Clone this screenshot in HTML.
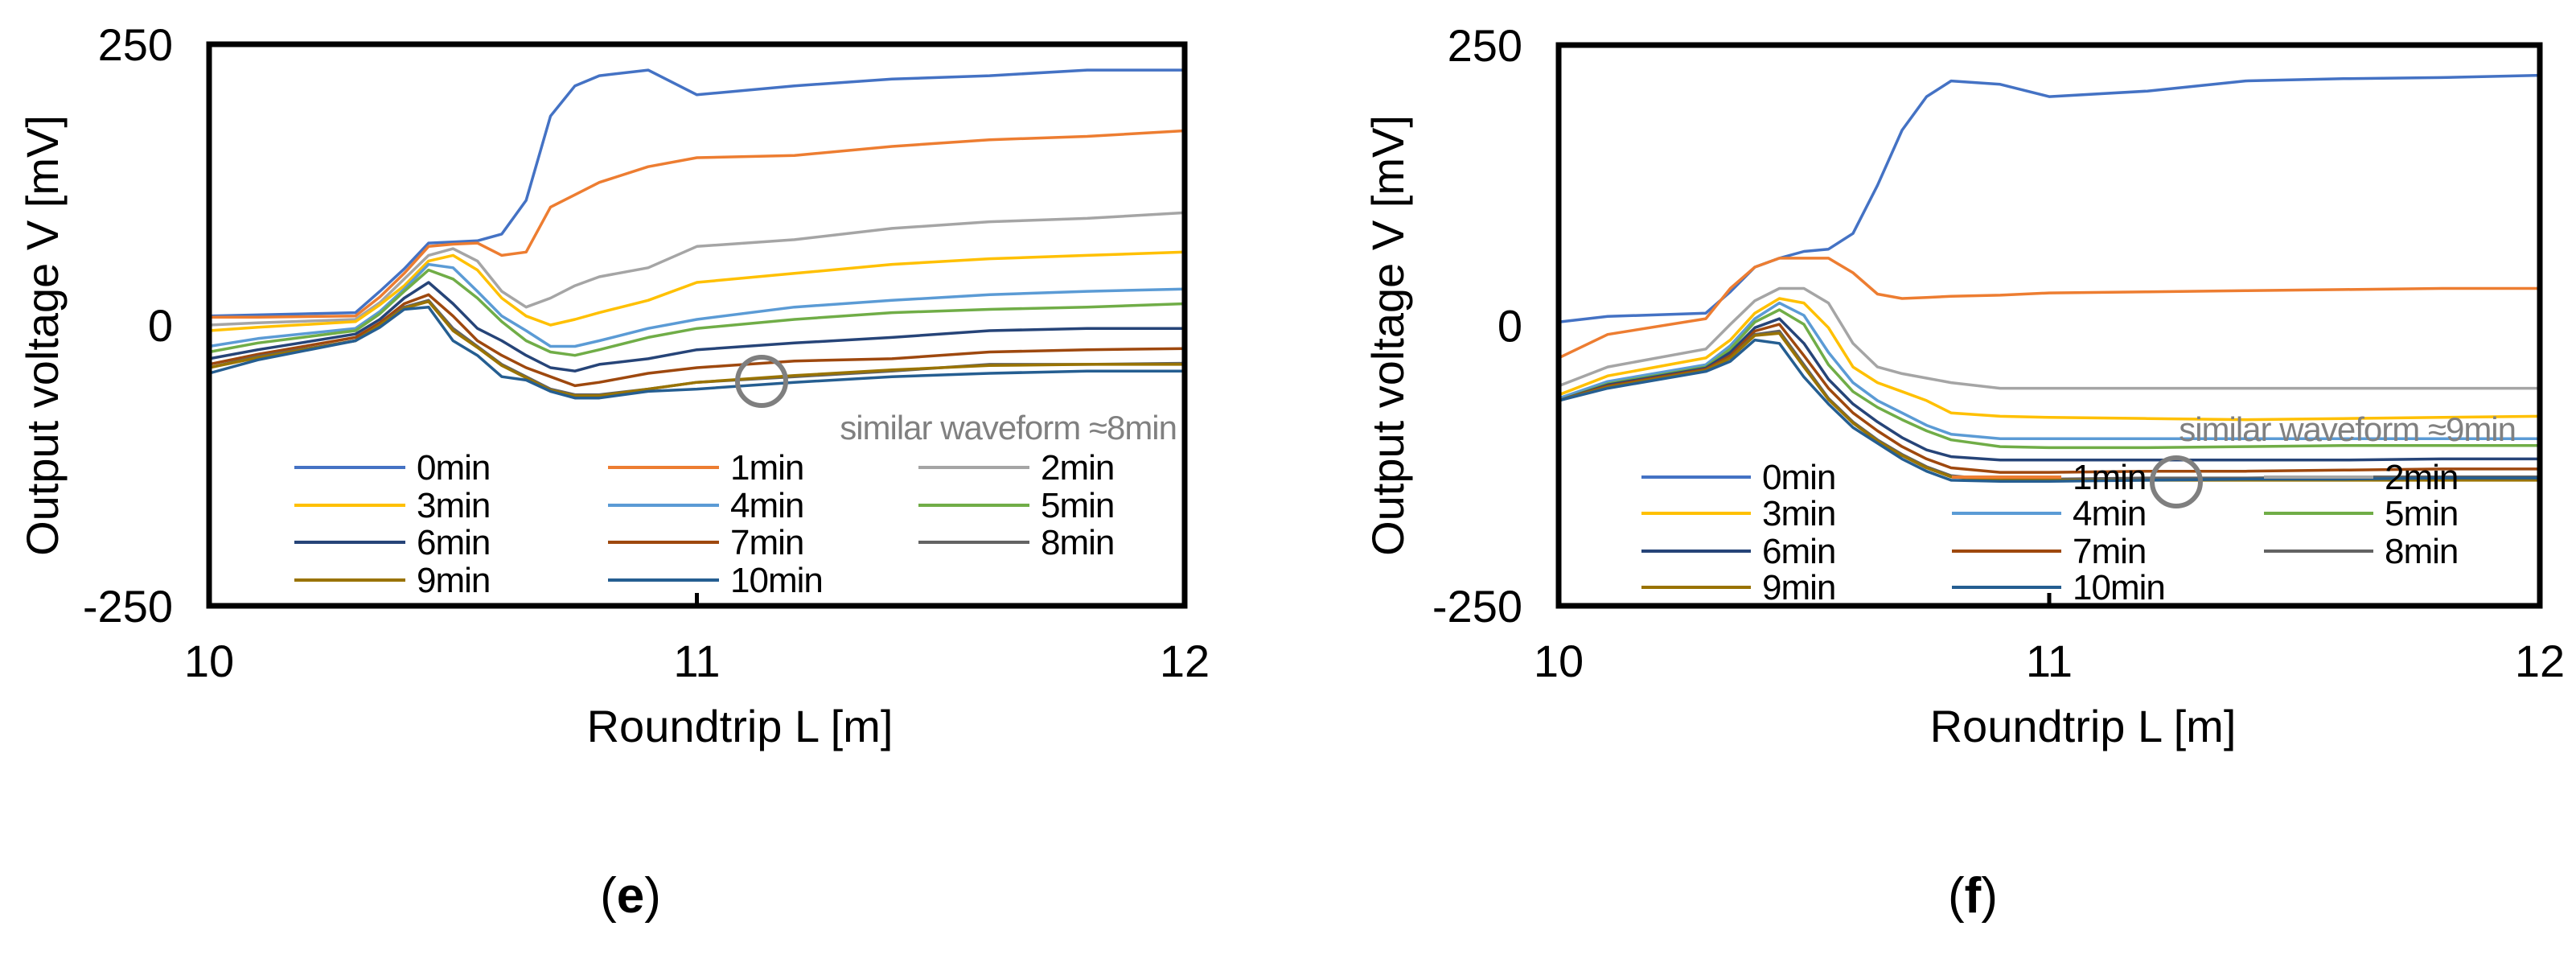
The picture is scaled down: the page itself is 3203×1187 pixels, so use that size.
<!DOCTYPE html>
<html><head><meta charset="utf-8"><style>
html,body{margin:0;padding:0;background:#fff;}
svg{display:block;}
text{font-family:"Liberation Sans",sans-serif;}
</style></head><body>
<svg id="fig" width="3203" height="1187" viewBox="0 0 3203 1187" xmlns="http://www.w3.org/2000/svg"></svg>
<script>
const xs = [10,10.1,10.3,10.35,10.4,10.45,10.5,10.55,10.6,10.65,10.7,10.75,10.8,10.9,11,11.2,11.4,11.6,11.8,12];
const seriesNames = ["0min","1min","2min","3min","4min","5min","6min","7min","8min","9min","10min"];
const colors = ["#4472C4","#ED7D31","#A5A5A5","#FFC000","#5B9BD5","#70AD47","#264478","#9E480E","#636363","#997300","#255E91"];
// chart (e)
const eVals = [
[8,9,11,30,50,73,74,75,81,111,186,213,222,227,205,213,219,222,227,227],
[7,7,8,25,46,70,72,73,62,65,105,116,127,141,149,151,159,165,168,173],
[0,2,5,20,41,62,68,57,30,16,24,35,43,51,70,76,86,92,95,100],
[-5,-2,3,18,35,57,62,49,24,8,0,5,11,22,38,46,54,59,62,65],
[-19,-12,-3,12,32,54,51,30,8,-5,-19,-19,-14,-3,5,16,22,27,30,32],
[-24,-16,-5,10,30,49,41,24,3,-14,-24,-27,-22,-11,-3,5,11,14,16,19],
[-30,-22,-8,5,24,38,19,-3,-14,-27,-38,-41,-35,-30,-22,-16,-11,-5,-3,-3],
[-35,-26,-11,2,19,27,8,-14,-27,-38,-46,-54,-51,-43,-38,-32,-30,-24,-22,-21],
[-38,-28,-14,0,16,22,-3,-19,-35,-46,-57,-62,-62,-57,-51,-46,-41,-35,-35,-34],
[-38,-29,-14,0,15,21,-5,-20,-36,-47,-58,-63,-63,-57,-51,-45,-40,-36,-35,-35],
[-43,-31,-14,-2,14,16,-14,-27,-46,-49,-59,-65,-65,-59,-57,-51,-46,-43,-41,-41]
];
// chart (f)
const fVals = [
[3,8,11,30,52,60,66,68,82,125,174,204,218,215,204,209,218,220,221,223],
[-29,-8,6,33,52,60,60,60,47,28,24,25,26,27,29,30,31,32,33,33],
[-54,-37,-21,1,22,33,33,20,-16,-37,-43,-47,-51,-56,-56,-56,-56,-56,-56,-56],
[-62,-45,-29,-13,11,24,20,-2,-37,-51,-59,-67,-78,-81,-82,-83,-84,-83,-82,-81],
[-65,-50,-35,-18,6,20,9,-24,-51,-67,-78,-89,-97,-101,-101,-101,-101,-101,-101,-101],
[-67,-52,-37,-21,3,14,1,-35,-59,-73,-84,-94,-102,-108,-109,-109,-108,-107,-107,-107],
[-67,-53,-38,-24,-2,6,-16,-48,-70,-86,-100,-111,-117,-120,-120,-120,-120,-120,-119,-119],
[-67,-54,-39,-27,-5,1,-27,-56,-78,-94,-108,-119,-127,-131,-131,-130,-130,-129,-128,-128],
[-67,-55,-40,-29,-8,-5,-35,-65,-86,-102,-115,-126,-134,-138,-137,-136,-136,-135,-135,-135],
[-67,-55,-40,-29,-9,-7,-37,-66,-87,-103,-116,-127,-135,-138,-138,-138,-138,-138,-138,-138],
[-67,-56,-41,-32,-13,-16,-46,-70,-91,-105,-119,-130,-138,-139,-139,-138,-137,-137,-136,-136]
];
const yTicks = [250,0,-250];
const xTicks = [10,11,12];

const NS="http://www.w3.org/2000/svg";
const svg=document.getElementById('fig');
function mk(tag,attrs,parent){const e=document.createElementNS(NS,tag);for(const k in attrs)e.setAttribute(k,attrs[k]);(parent||svg).appendChild(e);return e;}

function chart(cfg){
  const g=mk('g',{});
  
  
  const X=v=>cfg.x0+(v-10)/2*(cfg.x1-cfg.x0);
  const Y=v=>cfg.y0+(250-v)/500*(cfg.y1-cfg.y0);
  // series
  cfg.vals.forEach((arr,i)=>{
    const pts=arr.map((v,j)=>X(xs[j]).toFixed(1)+','+Y(v).toFixed(1)).join(' ');
    const p=mk('polyline',{points:pts,fill:'none',stroke:colors[i],'stroke-width':3.5,'stroke-linejoin':'round'},g);
    
    
  });
  // box
  const r=mk('rect',{x:cfg.x0,y:cfg.y0,width:cfg.x1-cfg.x0,height:cfg.y1-cfg.y0,fill:'none',stroke:'#000','stroke-width':7},g);
  
  
  const tk=mk('line',{x1:X(11),x2:X(11),y1:cfg.y1,y2:cfg.y1-16,stroke:'#000','stroke-width':5},g);
  
  
  yTicks.forEach(v=>{
    const t=mk('text',{x:cfg.x0-45,y:Y(v)+20,'font-size':56,'text-anchor':'end'},g);
    t.textContent=v;
    
    
  });
  xTicks.forEach(v=>{
    const t=mk('text',{x:X(v),y:cfg.y1+88,'font-size':56,'text-anchor':'middle'},g);
    t.textContent=v;
    
    
  });
  const yt=mk('text',{x:0,y:0,'font-size':56,'text-anchor':'middle',transform:`translate(${cfg.ytx},417) rotate(-90)`},g);
  yt.textContent='Output voltage  V [mV]';
  
  
  const xt=mk('text',{x:cfg.xtx,y:922,'font-size':56,'text-anchor':'middle'},g);
  xt.textContent='Roundtrip  L [m]';
  
  
  // legend
  seriesNames.forEach((n,i)=>{
    const c=i%3,rw=Math.floor(i/3);
    const lx=cfg.legX[c], ly=cfg.legY[rw];
    const l=mk('line',{x1:lx,x2:lx+cfg.legLen,y1:ly,y2:ly,stroke:colors[i],'stroke-width':4},g);
    
    
    const t=mk('text',{x:lx+cfg.legLen+14,y:ly+15,'font-size':44,'letter-spacing':-1},g);
    t.textContent=n;
    
    
  });
  const an=mk('text',{x:cfg.annX,y:cfg.annY,'font-size':42,fill:'#808080','text-anchor':'end','letter-spacing':-1},g);
  an.textContent=cfg.ann;
  
  
  const ci=mk('ellipse',{cx:cfg.cx,cy:cfg.cy,rx:30,ry:30,fill:'none',stroke:'#7f7f7f','stroke-width':6},g);
  
  
  const lb=mk('text',{x:cfg.labX,y:1134,'font-size':62,'text-anchor':'middle','font-family':'Liberation Serif, serif'},g);
  lb.innerHTML='(<tspan font-weight="bold">'+cfg.label+'</tspan>)';
  
  
}
chart({name:'chart-e',vals:eVals,x0:260,x1:1473,y0:55,y1:753,ytx:72,xtx:920,
  legX:[366,756,1142],legY:[581,628,674,721],legLen:138,
  ann:'similar waveform ≈8min',annX:1463,annY:546,cx:947,cy:474,labX:784,label:'e'});
chart({name:'chart-f',vals:fVals,x0:1938,x1:3158,y0:56,y1:753,ytx:1745,xtx:2590,
  legX:[2041,2427,2815],legY:[593,638,685,730],legLen:136,
  ann:'similar waveform ≈9min',annX:3128,annY:548,cx:2706,cy:599,labX:2453,label:'f'});
</script>
</body></html>
